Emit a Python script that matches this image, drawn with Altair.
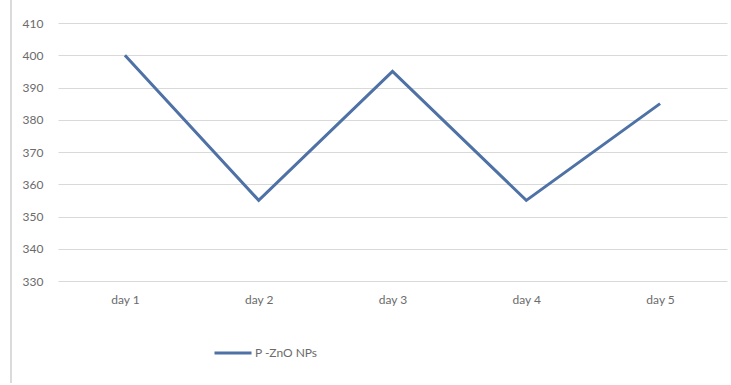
import altair as alt
import pandas as pd

days = ["day 1", "day 2", "day 3", "day 4", "day 5"]
values = [400, 355, 395, 355, 385]
series = ["P -ZnO NPs"] * 5

df = pd.DataFrame({"day": days, "value": values, "series": series})

FONT = "Lato"
LABEL = "#6b6b6b"

line = alt.Chart(df).mark_line(strokeWidth=3).encode(
    x=alt.X("day:O", sort=days,
            scale=alt.Scale(type="point", padding=0.5),
            axis=alt.Axis(title=None, labelAngle=0, domain=False, ticks=False, grid=False,
                          labelPadding=13, labelFontSize=12, labelColor=LABEL,
                          labelFont=FONT)),
    y=alt.Y("value:Q", scale=alt.Scale(domain=[330, 410], nice=False, zero=False),
            axis=alt.Axis(title=None, values=list(range(330, 411, 10)),
                          domain=False, ticks=False, labelPadding=15,
                          labelFontSize=12, labelColor=LABEL, labelFont=FONT,
                          grid=True, gridColor="#d9d9d9", gridWidth=1)),
    color=alt.Color("series:N",
                    scale=alt.Scale(range=["#4E71A6"]),
                    legend=alt.Legend(title=None, orient="none", legendX=155,
                                      legendY=310, symbolType="stroke",
                                      symbolSize=1369, symbolStrokeWidth=3,
                                      labelFontSize=12, labelColor=LABEL,
                                      labelFont=FONT, labelOffset=2)),
)

frame = alt.Chart(df).mark_rule(color="#d9d9d9", strokeWidth=1).encode(
    x=alt.value(-47), y=alt.value(-23), y2=alt.value(360)
)

chart = alt.layer(frame, line).properties(
    width=669, height=258,
    background="white",
    autosize=alt.AutoSizeParams(type="none"),
    padding={"left": 58, "top": 23, "right": 4, "bottom": 104},
).configure_view(strokeWidth=0)

chart.save("out.html", embed_options={"renderer": "svg", "actions": False})
